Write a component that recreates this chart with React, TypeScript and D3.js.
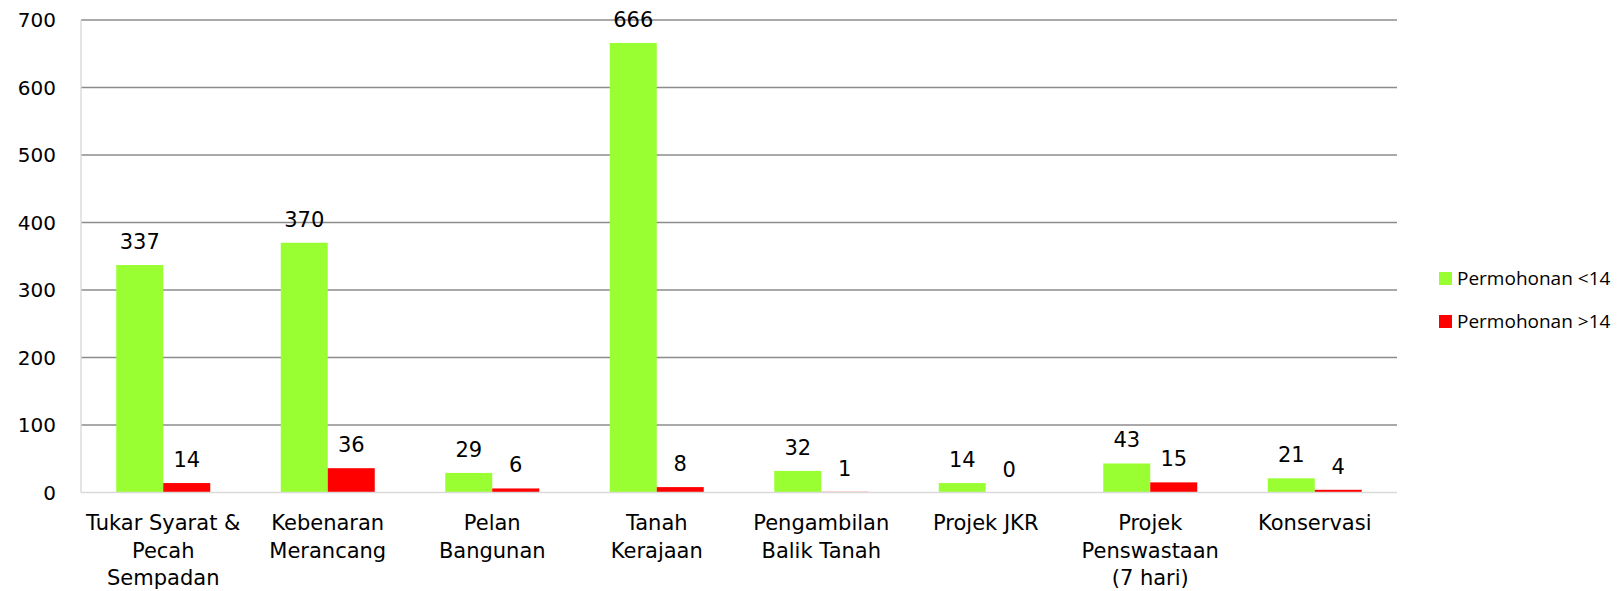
import React, { useRef, useEffect } from 'react';
import * as d3 from 'd3';

const categories: string[][] = [
  ['Tukar Syarat &', 'Pecah', 'Sempadan'],
  ['Kebenaran', 'Merancang'],
  ['Pelan', 'Bangunan'],
  ['Tanah', 'Kerajaan'],
  ['Pengambilan', 'Balik Tanah'],
  ['Projek JKR'],
  ['Projek', 'Penswastaan', '(7 hari)'],
  ['Konservasi'],
];
const seriesNames = ['Permohonan <14', 'Permohonan >14'];
const under14 = [337, 370, 29, 666, 32, 14, 43, 21];
const over14 = [14, 36, 6, 8, 1, 0, 15, 4];
const yTicks = [0, 100, 200, 300, 400, 500, 600, 700];

const WIDTH = 1620;
const HEIGHT = 591;
const COLORS = ['#99ff33', '#ff0000'];
const FONT = '"DejaVu Sans", sans-serif';

const App: React.FC = () => {
  const svgRef = useRef<SVGSVGElement>(null);

  useEffect(() => {
    if (!svgRef.current) return;
    const svg = d3.select(svgRef.current);
    svg.selectAll('*').remove();

    const left = 81;
    const right = 1397;
    const top = 20;
    const bottom = 492.5;

    const x = d3
      .scaleBand<number>()
      .domain(d3.range(categories.length))
      .range([left, right])
      .paddingInner(0.4286)
      .paddingOuter(0.2143);
    const xSub = d3.scaleBand<number>().domain([0, 1]).range([0, x.bandwidth()]);
    const y = d3.scaleLinear().domain([0, 700]).range([bottom, top]);

    // gridlines
    svg
      .append('g')
      .selectAll('line')
      .data(yTicks.filter((t) => t > 0))
      .join('line')
      .attr('x1', left)
      .attr('x2', right)
      .attr('y1', (d) => y(d))
      .attr('y2', (d) => y(d))
      .attr('stroke', '#8c8c8c')
      .attr('stroke-width', 1.4);

    // y tick labels
    svg
      .append('g')
      .selectAll('text')
      .data(yTicks)
      .join('text')
      .attr('x', 56)
      .attr('y', (d) => y(d))
      .attr('dy', '0.36em')
      .attr('text-anchor', 'end')
      .attr('font-family', FONT)
      .attr('font-size', 20)
      .attr('fill', '#000')
      .text((d) => d);

    // y axis line
    svg
      .append('line')
      .attr('x1', left)
      .attr('x2', left)
      .attr('y1', top)
      .attr('y2', bottom)
      .attr('stroke', '#d9d9d9')
      .attr('stroke-width', 1.4);

    const series = [under14, over14];
    series.forEach((vals, si) => {
      const g = svg.append('g');
      g.selectAll('rect')
        .data(vals)
        .join('rect')
        .attr('x', (_, i) => (x(i) as number) + (xSub(si) as number))
        .attr('y', (d) => y(d))
        .attr('width', xSub.bandwidth())
        .attr('height', (d) => bottom - y(d))
        .attr('fill', COLORS[si]);

      g.selectAll('text')
        .data(vals)
        .join('text')
        .attr('x', (_, i) => (x(i) as number) + (xSub(si) as number) + xSub.bandwidth() / 2)
        .attr('y', (d) => y(d) - 16)
        .attr('text-anchor', 'middle')
        .attr('font-family', FONT)
        .attr('font-size', 21)
        .attr('fill', '#000')
        .text((d) => d);
    });

    // x axis line
    svg
      .append('line')
      .attr('x1', left)
      .attr('x2', right)
      .attr('y1', bottom)
      .attr('y2', bottom)
      .attr('stroke', '#d9d9d9')
      .attr('stroke-width', 1.4);

    // category labels
    const labels = svg
      .append('g')
      .selectAll('text')
      .data(categories)
      .join('text')
      .attr('x', (_, i) => (x(i) as number) + x.bandwidth() / 2)
      .attr('y', 530)
      .attr('text-anchor', 'middle')
      .attr('font-family', FONT)
      .attr('font-size', 21)
      .attr('fill', '#000');
    labels
      .selectAll('tspan')
      .data((d) => d)
      .join('tspan')
      .attr('x', function () {
        return (this.parentNode as SVGTextElement).getAttribute('x');
      })
      .attr('dy', (_, i) => (i === 0 ? 0 : 27.5))
      .text((d) => d);

    // legend
    const legend = svg.append('g').attr('transform', 'translate(1439, 272)');
    seriesNames.forEach((name, i) => {
      legend
        .append('rect')
        .attr('x', 0)
        .attr('y', i * 43)
        .attr('width', 13)
        .attr('height', 13)
        .attr('fill', COLORS[i]);
      legend
        .append('text')
        .attr('x', 18)
        .attr('y', i * 43 + 12.5)
        .attr('font-family', '"Open Sans", sans-serif')
        .attr('font-size', 19)
        .attr('fill', '#000')
        .text(name);
    });
  }, []);

  return (
    <svg
      ref={svgRef}
      width={WIDTH}
      height={HEIGHT}
      style={{ position: 'absolute', left: 0, top: 0, background: '#fff', display: 'block' }}
    />
  );
};

export default App;
